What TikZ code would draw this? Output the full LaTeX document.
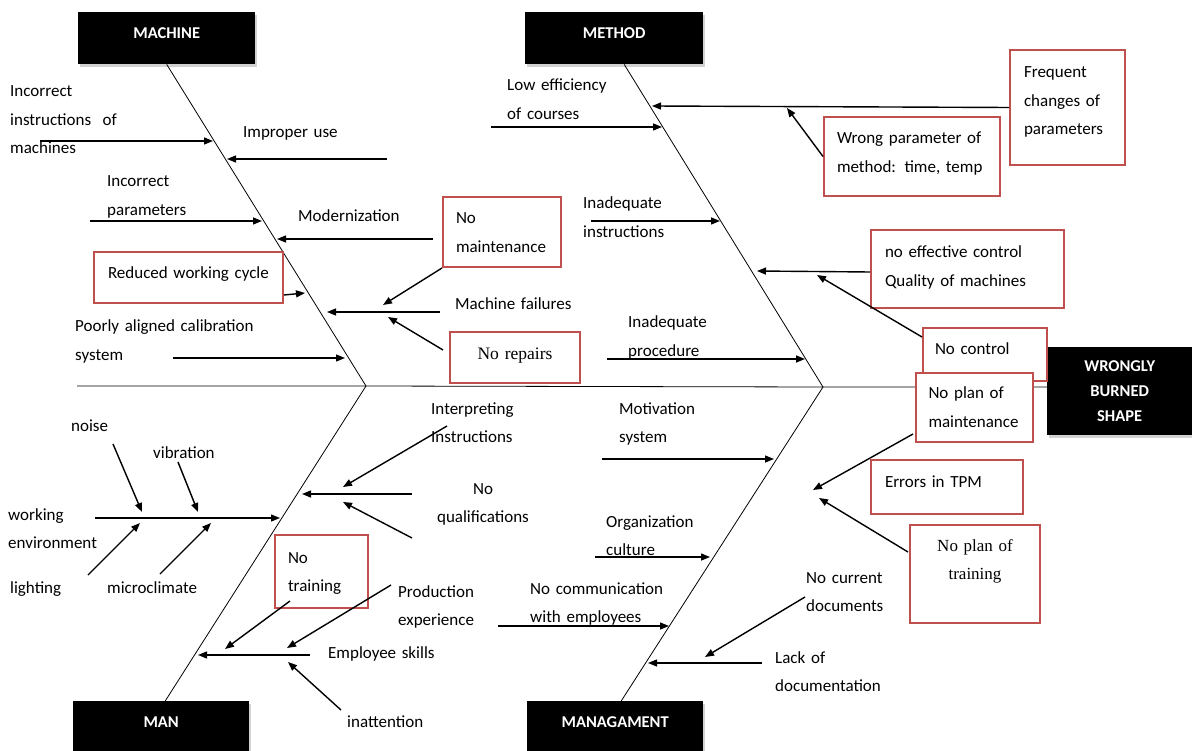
\documentclass[tikz,border=0pt]{standalone}
\usepackage{fontspec}
\setmainfont{Carlito}
\newfontfamily\timesf{Liberation Serif}
\usetikzlibrary{arrows.meta,shadows}
\definecolor{boxred}{HTML}{C0504D}
\begin{document}
\begin{tikzpicture}[x=1pt,y=-1pt,
  lbl/.style={font=\fontsize{17}{28.5}\selectfont, inner sep=0pt, anchor=base west, text width=220pt, align=left},
  catbox/.style={fill=black, text=white, font=\bfseries\fontsize{16.5}{25}\selectfont, inner xsep=0pt, inner ysep=0pt, anchor=north west,
     drop shadow={shadow xshift=1.5pt, shadow yshift=-2.5pt, opacity=0.35}},
  redbox/.style={draw=boxred, line width=2pt, fill=white, font=\fontsize{17}{28.5}\selectfont, align=left, anchor=north west, inner ysep=0pt, inner xsep=14pt},
  bone/.style={line width=0.8pt},
  cause/.style={line width=1.4pt, -{Triangle[length=9pt,width=7pt]}},
]
\fill[white] (0,0) rectangle (1192,751);
\useasboundingbox (0,0) rectangle (1192,751);

% category and effect boxes
\node[catbox, minimum width=177pt, text height=26.5pt, text depth=25.5pt] (machine) at (78,12) {MACHINE};
\node[catbox, minimum width=178pt, text height=26.5pt, text depth=25.5pt] (method) at (525,12) {METHOD};
\node[catbox, minimum width=176pt, text height=26.5pt, text depth=45pt] (man) at (73,701) {MAN};
\node[catbox, minimum width=176pt, text height=26.5pt, text depth=45pt] (managament) at (527,701) {MANAGAMENT};
\node[catbox, minimum width=145pt, minimum height=88pt, align=center] (effect) at (1047,347) {WRONGLY\\BURNED\\SHAPE};

% skeleton
\coordinate (tail) at (77,386);
\coordinate (jm) at (366,386);
\coordinate (jt) at (823,387);
\draw[bone] (tail) -- (jm) -- (jt) -- (effect.west |- jt);
\draw[bone] (machine.south) -- (jm) -- ([xshift=4pt]man.north);
\draw[bone] ([xshift=10pt]method.south) -- (jt) -- ([xshift=6pt]managament.north);

% red boxes
\node[redbox, text width=161pt, minimum height=51pt, text height=27pt, text depth=24pt] (reduced) at (93,251) {Reduced working cycle};
\node[redbox, inner xsep=13pt, text width=92pt, text height=27pt, text depth=43pt] (nomaint) at (442,196) {No\\maintenance};
\node[redbox, font=\timesf\fontsize{17.5}{28.5}\selectfont, align=center, text width=102pt, text height=27.5pt, text depth=23.5pt] (norep) at (449,331) {No repairs};
\node[redbox, text width=87pt, text height=28pt, text depth=87pt] (freq) at (1009,49) {Frequent\\changes of\\parameters};
\node[redbox, inner xsep=13pt, text width=150pt, text height=27pt, text depth=52pt] (wrong) at (823,116) {Wrong parameter of\\method: time, temp};
\node[redbox, text width=165pt, text height=28pt, text depth=50pt] (noeff) at (870,229) {no effective control\\Quality of machines};
\node[redbox, inner xsep=12pt, text width=100pt, text height=27pt, text depth=26pt] (noctrl) at (922,327) {No control};
\node[redbox, inner xsep=12.5pt, text width=92pt, text height=26pt, text depth=43pt] (noplanm) at (915,372) {No plan of\\maintenance};
\node[redbox, text width=124pt, text height=27pt, text depth=27pt] (errtpm) at (870,459) {Errors in TPM};
\node[redbox, font=\timesf\fontsize{17}{28.5}\selectfont, align=center, text width=102pt, text height=26pt, text depth=72pt] (noplant) at (909,524) {No plan of\\training};
\node[redbox, inner xsep=13pt, text width=67pt, text height=28pt, text depth=45pt] (notrain) at (274,534) {No\\training};

% labels
\node[lbl] (l1) at (10,97) {Incorrect\\instructions~ of\\machines};
\node[lbl] (l2) at (243,138) {Improper use};
\node[lbl] (l3) at (107,187) {Incorrect\\parameters};
\node[lbl] (l4) at (298,222) {Modernization};
\node[lbl] (l5) at (455,310) {Machine failures};
\node[lbl] (l6) at (75,332) {Poorly aligned calibration\\system};
\node[lbl] (l7) at (507,91) {Low efficiency\\of courses};
\node[lbl] (l8) at (583,209) {Inadequate\\instructions};
\node[lbl] (l9) at (628,328) {Inadequate\\procedure};
\node[lbl] (l10) at (431,414) {Interpreting\\Instructions};
\node[lbl, anchor=base, text width=120pt, align=center] (l11) at (483,494) {No\\qualifications};
\node[lbl] (l12) at (8,520) {working\\environment};
\node[lbl] (l13) at (71,431) {noise};
\node[lbl] (l14) at (153,458) {vibration};
\node[lbl] (l15) at (10,593) {lighting};
\node[lbl] (l16) at (107,593) {microclimate};
\node[lbl] (l17) at (328,658) {Employee skills};
\node[lbl] (l18) at (398,597) {Production\\experience};
\node[lbl] (l19) at (347,727) {inattention};
\node[lbl] (l20) at (619,414) {Motivation\\system};
\node[lbl] (l21) at (606,527) {Organization\\culture};
\node[lbl] (l22) at (530,594) {No communication\\with employees};
\node[lbl] (l23) at (806,583) {No current\\documents};
\node[lbl] (l24) at (775,663) {Lack of\\documentation};

% arrow end points
\coordinate (a1) at (40,141);   \coordinate (b1) at (213,141);
\coordinate (a2) at (387,159);  \coordinate (b2) at (227,159);
\coordinate (a3) at (90,221);   \coordinate (b3) at (262,221);
\coordinate (a4) at (433,239);  \coordinate (b4) at (277,239);
\coordinate (b5) at (305,293);
\coordinate (a6) at (440,312);  \coordinate (b6) at (327,312);
\coordinate (b6a) at (383,305);
\coordinate (a6b) at (443,350); \coordinate (b6b) at (388,317);
\coordinate (a7) at (173,358);  \coordinate (b7) at (345,358);
\coordinate (a8) at (491,127);  \coordinate (b8) at (662,127);
\coordinate (b9) at (652,106);
\coordinate (b9a) at (787,108);
\coordinate (a10) at (591,221); \coordinate (b10) at (720,221);
\coordinate (b11) at (757,271);
\coordinate (b11a) at (817,275);
\coordinate (a12) at (607,359); \coordinate (b12) at (805,359);
\coordinate (a13) at (447,426); \coordinate (b13) at (343,487);
\coordinate (a14) at (412,494); \coordinate (b14) at (302,494);
\coordinate (a14b) at (412,538); \coordinate (b14b) at (343,502);
\coordinate (a15) at (95,518);  \coordinate (b15) at (280,518);
\coordinate (a15a) at (113,444); \coordinate (b15a) at (142,512);
\coordinate (a15b) at (178,462); \coordinate (b15b) at (198,512);
\coordinate (a15c) at (88,575);  \coordinate (b15c) at (140,523);
\coordinate (a15d) at (160,574); \coordinate (b15d) at (211,523);
\coordinate (b16) at (225,649);
\coordinate (a17) at (310,655); \coordinate (b17) at (198,655);
\coordinate (a17a) at (391,585); \coordinate (b17a) at (287,648);
\coordinate (a17b) at (341,710); \coordinate (b17b) at (288,662);
\coordinate (a18) at (602,459); \coordinate (b18) at (774,459);
\coordinate (a19) at (595,557); \coordinate (b19) at (710,557);
\coordinate (a20) at (498,626); \coordinate (b20) at (669,626);
\coordinate (a21) at (762,663); \coordinate (b21) at (648,663);
\coordinate (a21a) at (805,597); \coordinate (b21a) at (705,657);
\coordinate (b22a) at (813,490);
\coordinate (b22b) at (819,498);

% machine causes
\draw[cause] (a1) -- (b1);
\draw[cause] (a2) -- (b2);
\draw[cause] (a3) -- (b3);
\draw[cause] (a4) -- (b4);
\draw[cause] ([yshift=9pt]reduced.south east) -- (b5);
\draw[cause] (a6) -- (b6);
\draw[cause] (nomaint.south west) -- (b6a);
\draw[cause] (a6b) -- (b6b);
\draw[cause] (a7) -- (b7);
% method causes
\draw[cause] (a8) -- (b8);
\draw[cause] (freq.west) -- (b9);
\draw[cause] (wrong.west) -- (b9a);
\draw[cause] (a10) -- (b10);
\draw[cause] ([yshift=-3pt]noeff.west) -- (b11);
\draw[cause] ([yshift=-10pt]noctrl.north west) -- (b11a);
\draw[cause] (a12) -- (b12);
% man causes
\draw[cause] (a13) -- (b13);
\draw[cause] (a14) -- (b14);
\draw[cause] (a14b) -- (b14b);
\draw[cause] (a15) -- (b15);
\draw[cause] (a15a) -- (b15a);
\draw[cause] (a15b) -- (b15b);
\draw[cause] (a15c) -- (b15c);
\draw[cause] (a15d) -- (b15d);
\draw[cause] ([xshift=16pt,yshift=8pt]notrain.south west) -- (b16);
\draw[cause] (a17) -- (b17);
\draw[cause] (a17a) -- (b17a);
\draw[cause] (a17b) -- (b17b);
% management causes
\draw[cause] (a18) -- (b18);
\draw[cause] (a19) -- (b19);
\draw[cause] (a20) -- (b20);
\draw[cause] (a21) -- (b21);
\draw[cause] (a21a) -- (b21a);
\draw[cause] ([xshift=-2pt,yshift=9pt]noplanm.south west) -- (b22a);
\draw[cause] ([xshift=-1pt,yshift=-28pt]noplant.north west) -- (b22b);
\end{tikzpicture}
\end{document}
